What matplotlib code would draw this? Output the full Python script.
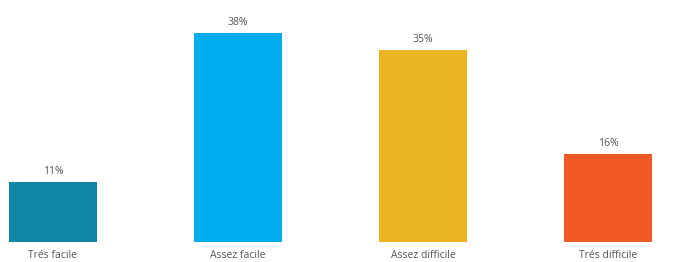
import numpy as np
import matplotlib.pyplot as plt

categories = ["Trés facile", "Assez facile", "Assez difficile", "Trés difficile"]
values = [11, 38, 35, 16]
colors = ["#1287A5", "#00AEEF", "#EBB521", "#F15A24"]

plt.rcParams['font.family'] = ['Open Sans', 'DejaVu Sans']

fig = plt.figure(figsize=(6.96, 2.62), dpi=100)
ax = fig.add_axes([0, 20 / 262, 1, 242 / 262])

x = np.arange(len(categories))
bars = ax.bar(x, values, width=0.476, color=colors)

for b, v in zip(bars, values):
    ax.annotate('{}%'.format(v), xy=(b.get_x() + b.get_width() / 2, b.get_height()),
                xytext=(0, 3.5), textcoords="offset points", ha='center', va='bottom',
                fontsize=7.5, color='#555555')

ax.set_xlim(-53 / 185, (696 - 53) / 185)
ax.set_ylim(0, 242 / 5.5)
ax.set_xticks(x)
ax.set_xticklabels(categories, fontsize=7.5, color='#555555')
ax.tick_params(axis='x', length=0, pad=6)
ax.set_yticks([])
for s in ax.spines.values():
    s.set_visible(False)

fig.savefig("out.png", dpi=100)
